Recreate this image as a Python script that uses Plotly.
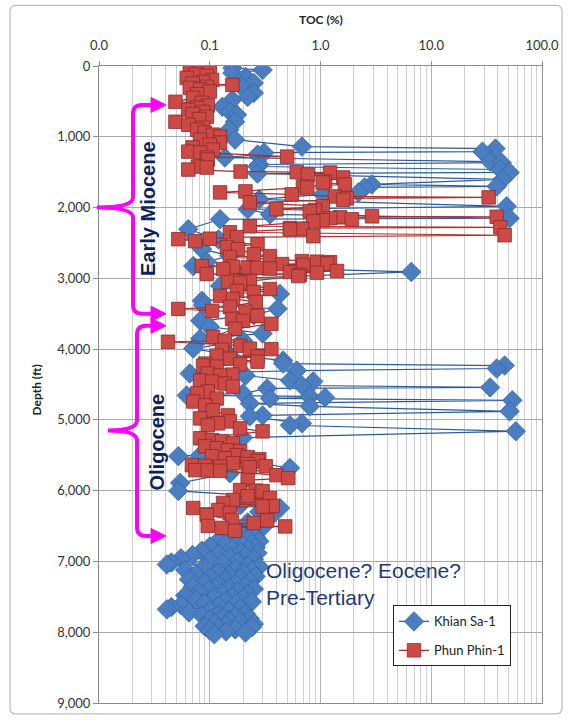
import plotly.graph_objects as go

# ---- Khian Sa-1 : depth (ft) and TOC (%) ----
KS_DEPTH = [
    28, 56, 100, 155, 197, 240, 310, 380, 436, 478, 577, 647, 689, 788, 900,
    1041, 1139, 1167, 1210, 1224, 1252, 1294, 1350, 1364, 1392, 1420, 1462,
    1504, 1520, 1603, 1673, 1701, 1715, 1786, 1814, 1884, 1982, 2025, 2095,
    2151, 2165, 2306, 2450, 2587, 2680, 2770, 2826, 2910, 3000, 3107, 3220,
    3318, 3380, 3430, 3520, 3600, 3684, 3780, 3852, 3882, 3993, 4080, 4162,
    4204, 4232, 4274, 4303, 4345, 4374, 4443, 4457, 4514, 4541, 4556, 4627,
    4654, 4668, 4682, 4696, 4724, 4768, 4809, 4879, 4937, 4949, 5048, 5076,
    5160, 5250, 5380, 5499, 5512, 5600, 5680, 5753, 5891, 6004, 6062, 6100,
    6175, 6200, 6245, 6300, 6380, 6450, 6520, 6580, 6620,
    6640, 6655, 6670, 6685, 6700, 6715, 6730, 6745, 6760, 6775, 6790, 6805,
    6820, 6835, 6850, 6865, 6880, 6895, 6910, 6925, 6940, 6955, 6970, 6985,
    7000, 7015, 7030, 7044, 7060, 7075, 7090, 7105, 7120, 7135, 7150, 7165,
    7180, 7195, 7210, 7225, 7240, 7255, 7270, 7285, 7300, 7315, 7330, 7345,
    7360, 7375, 7390, 7405, 7420, 7435, 7450, 7465, 7480, 7495, 7510, 7525,
    7540, 7555, 7570, 7585, 7600, 7615, 7630, 7645, 7660, 7677, 7690, 7705,
    7720, 7735, 7750, 7765, 7780, 7795, 7810, 7825, 7840, 7855, 7870, 7885,
    7900, 7915, 7930, 7945, 7960, 7975, 7990, 8005, 8028,
]
KS_TOC = [
    0.16, 0.30, 0.16, 0.21, 0.22, 0.25, 0.20, 0.25, 0.22, 0.16, 0.13, 0.152, 0.176, 0.169, 0.15,
    0.169, 0.68, 38, 29, 0.31, 0.27, 0.137, 34, 43, 0.28, 0.27, 42,
    51, 0.27, 44, 2.9, 39, 2.5, 2.2, 1.05, 0.28, 48, 0.22, 0.35,
    51, 0.124, 0.064, 0.12, 0.085, 0.15, 0.094, 0.071, 6.6, 0.20, 0.124, 0.43,
    0.085, 0.087, 0.41, 0.25, 0.082, 0.10, 0.30, 0.082, 0.20, 0.071, 0.15, 0.46,
    0.46, 46, 39, 0.61, 0.066, 0.21, 0.53, 0.86, 0.68, 34, 0.33, 0.20,
    0.062, 0.80, 1.10, 0.35, 54, 0.23, 0.80, 51, 0.30, 0.23, 0.68, 0.53,
    58, 0.20, 0.15, 0.082, 0.052, 0.25, 0.53, 0.152, 0.054, 0.052, 0.20, 0.25,
    0.30, 0.19, 0.43, 0.28, 0.35, 0.22, 0.30, 0.18, 0.25,
    0.20, 0.26, 0.15, 0.22, 0.12, 0.28, 0.18, 0.24, 0.14, 0.20, 0.10, 0.26,
    0.16, 0.22, 0.085, 0.19, 0.27, 0.12, 0.07, 0.21, 0.15, 0.055, 0.25, 0.10,
    0.18, 0.045, 0.13, 0.041, 0.22, 0.28, 0.09, 0.17, 0.06, 0.24, 0.12, 0.20,
    0.075, 0.15, 0.26, 0.10, 0.19, 0.065, 0.14, 0.23, 0.09, 0.17, 0.12, 0.21,
    0.07, 0.15, 0.25, 0.10, 0.18, 0.08, 0.13, 0.22, 0.06, 0.16, 0.11, 0.20,
    0.075, 0.14, 0.24, 0.09, 0.17, 0.055, 0.12, 0.045, 0.19, 0.041, 0.10, 0.15,
    0.065, 0.21, 0.12, 0.085, 0.17, 0.13, 0.23, 0.10, 0.15, 0.19, 0.11, 0.25,
    0.14, 0.09, 0.24, 0.12, 0.17, 0.10, 0.14, 0.21, 0.11,
]

# ---- Phun Phin-1 : depth (ft) and TOC (%) ----
PP_DEPTH = [
    28, 56, 90, 120, 140, 169, 197, 225, 250, 267, 295, 309, 330, 360, 400,
    450, 506, 520, 560, 591, 619, 650, 680, 717, 750, 788, 830, 872, 900,
    940, 970, 999, 1040, 1083, 1111, 1150, 1180, 1210, 1224, 1280, 1294,
    1322, 1421, 1435, 1463, 1491, 1500, 1505, 1533, 1575, 1632, 1646, 1674,
    1702, 1715, 1772, 1786, 1814, 1843, 1857, 1870, 1890, 1927, 1983, 2025,
    2035, 2053, 2124, 2130, 2138, 2150, 2166, 2180, 2194, 2264, 2279, 2290,
    2300, 2307, 2349, 2391, 2405, 2419, 2440, 2447, 2475, 2518, 2560, 2588,
    2658, 2686, 2700, 2757, 2765, 2771, 2790, 2799, 2810, 2827, 2835, 2845,
    2855, 2862, 2869, 2897, 2911, 2920, 2940, 2950, 2968, 3038, 3052, 3060,
    3151, 3179, 3193, 3249, 3291, 3333, 3404, 3432, 3460, 3470, 3530, 3573,
    3601, 3643, 3713, 3826, 3882, 3896, 3952, 3994, 4000, 4010, 4093, 4107,
    4135, 4177, 4205, 4215, 4234, 4248, 4346, 4360, 4374, 4445, 4459, 4487,
    4529, 4599, 4627, 4698, 4740, 4796, 4866, 4937, 4979, 5021, 5049, 5077,
    5120, 5162, 5260, 5288, 5300, 5331, 5373, 5401, 5429, 5443, 5499, 5513,
    5525, 5542, 5555, 5584, 5612, 5625, 5640, 5648, 5654, 5660, 5670, 5710,
    5715, 5720, 5781, 5823, 5851, 5992, 6000, 6006, 6076, 6104, 6132, 6175,
    6217, 6225, 6245, 6273, 6315, 6343, 6414, 6420, 6456, 6498, 6505, 6526,
    6568,
]
PP_TOC = [
    0.066, 0.082, 0.100, 0.074, 0.094, 0.062, 0.105, 0.087, 0.070, 0.16, 0.094, 0.066, 0.082, 0.100, 0.077,
    0.071, 0.049, 0.085, 0.096, 0.077, 0.064, 0.087, 0.070, 0.094, 0.080, 0.049, 0.064, 0.087, 0.077,
    0.090, 0.107, 0.124, 0.082, 0.124, 0.100, 0.070, 0.107, 0.064, 0.082, 0.50, 0.094,
    0.096, 0.078, 0.094, 0.064, 0.19, 0.61, 1.22, 0.77, 1.60, 1.10, 1.05, 1.66,
    0.70, 0.76, 0.21, 0.124, 0.55, 1.35, 33, 1.73, 1.60, 0.23, 1.05, 0.40,
    0.89, 0.80, 2.92, 39, 1.50, 1.22, 1.92, 1.05, 0.86, 0.23, 42, 0.53,
    0.68, 0.53, 0.152, 46, 0.86, 0.176, 0.10, 0.052, 0.074, 0.27, 0.143, 0.18,
    0.25, 0.35, 0.152, 0.68, 0.93, 1.22, 1.15, 0.45, 0.70, 0.085, 0.162, 0.22,
    0.27, 0.35, 0.132, 1.41, 0.53, 0.93, 0.094, 0.65, 0.63, 0.23, 0.146, 0.188,
    0.35, 0.176, 0.25, 0.124, 0.162, 0.26, 0.152, 0.052, 0.105, 0.21, 0.27, 0.159,
    0.20, 0.36, 0.169, 0.107, 0.137, 0.042, 0.188, 0.23, 0.36, 0.129, 0.116, 0.27,
    0.152, 0.27, 0.091, 0.188, 0.087, 0.116, 0.096, 0.159, 0.124, 0.082, 0.105, 0.137,
    0.162, 0.096, 0.077, 0.116, 0.071, 0.091, 0.107, 0.146, 0.082, 0.152, 0.119, 0.096,
    0.188, 0.30, 0.082, 0.105, 0.129, 0.162, 0.091, 0.116, 0.146, 0.188, 0.176, 0.105,
    0.22, 0.137, 0.28, 0.27, 0.162, 0.22, 0.069, 0.091, 0.32, 0.124, 0.23, 0.074,
    0.096, 0.124, 0.40, 0.51, 0.22, 0.188, 0.26, 0.30, 0.22, 0.35, 0.162, 0.132,
    0.37, 0.30, 0.071, 0.119, 0.152, 0.094, 0.159, 0.33, 0.25, 0.096, 0.48, 0.129,
    0.169,
]

TOC_TICKS = [0.01, 0.1, 1, 10, 100]
TOC_LABELS = ["0.0", "0.1", "1.0", "10.0", "100.0"]
DEPTH_TICKS = [0, 1000, 2000, 3000, 4000, 5000, 6000, 7000, 8000, 9000]
DEPTH_LABELS = ["0", "1,000", "2,000", "3,000", "4,000", "5,000",
                "6,000", "7,000", "8,000", "9,000"]

# Interval brackets: (label, top depth, mid depth, bottom depth)
INTERVALS = [("Early Miocene", 550, 2000, 3500), ("Oligocene", 3670, 5150, 6640)]
DEEP_LABEL = "Oligocene? Eocene?<br>Pre-Tertiary"

# ---- page geometry (pixels) ----
W, H = 572, 723
ML, MR, MT, MB = 99, 30, 66, 17
PW, PH = W - ML - MR, H - MT - MB
FT_PER_PX = 9000 / PH


def xp(x):
    """pixel column -> paper x"""
    return (x - ML) / PW


def yp(y):
    """pixel row -> paper y"""
    return (H - MB - y) / PH


MAGENTA = "#FF00FF"
NAVY = "#0E1F5E"
FONT = "Lato, 'Liberation Sans', sans-serif"
ARIAL = "'Liberation Sans', Arial, sans-serif"

fig = go.Figure()

fig.add_trace(go.Scatter(
    x=KS_TOC, y=KS_DEPTH, name="Khian Sa-1", mode="lines+markers",
    legendgroup="ks",
    line=dict(color="#2D5B9A", width=1.2),
    marker=dict(symbol="diamond", size=15, color="#4A7EC0",
                line=dict(color="#3567A8", width=0.8)),
))
fig.add_trace(go.Scatter(
    x=PP_TOC, y=PP_DEPTH, name="Phun Phin-1", mode="lines+markers",
    legendgroup="pp",
    line=dict(color="#A8302D", width=1.2),
    marker=dict(symbol="square", size=13.5, color="#CC4A45",
                line=dict(color="#8E2B28", width=0.8)),
))

shapes = []

# outer chart-area frame (rounded)
x0, x1 = xp(10), xp(562)
y0, y1 = yp(5), yp(717)
rx, ry = 6 / PW, 6 / PH
frame = (f"M {x0+rx},{y0} L {x1-rx},{y0} Q {x1},{y0} {x1},{y0-ry} "
         f"L {x1},{y1+ry} Q {x1},{y1} {x1-rx},{y1} L {x0+rx},{y1} "
         f"Q {x0},{y1} {x0},{y1+ry} L {x0},{y0-ry} Q {x0},{y0} {x0+rx},{y0} Z")
shapes.append(dict(type="path", path=frame, xref="paper", yref="paper",
                   line=dict(color="#BDBDBD", width=1.2), layer="below"))

# magenta interval brackets with arrows
bracket_px = [(133, 97), (137, 108)]
for (label, top, mid, bot), (xv_px, xt_px) in zip(INTERVALS, bracket_px):
    xv, xt = xp(xv_px), xp(xt_px)
    xb, xh = xp(151), xp(166)
    r_x, r_y = 9 / PW, 9 * FT_PER_PX
    m_y = 10 * FT_PER_PX
    path = (f"M {xb},{top} L {xv+r_x},{top} Q {xv},{top} {xv},{top+r_y} "
            f"L {xv},{mid-m_y} Q {xv},{mid} {xt},{mid} "
            f"Q {xv},{mid} {xv},{mid+m_y} "
            f"L {xv},{bot-r_y} Q {xv},{bot} {xv+r_x},{bot} L {xb},{bot}")
    shapes.append(dict(type="path", path=path, xref="paper", yref="y",
                       line=dict(color=MAGENTA, width=4)))
    hh = 7.5 * FT_PER_PX
    for yy in (top, bot):
        tri = f"M {xb},{yy-hh} L {xh},{yy} L {xb},{yy+hh} Z"
        shapes.append(dict(type="path", path=tri, xref="paper", yref="y",
                           fillcolor=MAGENTA, line=dict(color=MAGENTA, width=1)))

annotations = [
    dict(text="<b>TOC (%)</b>", x=xp(321), y=yp(19), xref="paper", yref="paper",
         xanchor="center", yanchor="middle", showarrow=False,
         font=dict(family=FONT, size=12, color="#222222")),
    dict(text="<b>Depth (ft)</b>", x=xp(36), y=yp(392), xref="paper", yref="paper",
         xanchor="center", yanchor="middle", textangle=-90, showarrow=False,
         font=dict(family=FONT, size=12, color="#222222")),
    dict(text=DEEP_LABEL, x=xp(264), y=7320, xref="paper", yref="y",
         xanchor="left", yanchor="middle", align="left", showarrow=False,
         font=dict(family=ARIAL, size=21, color="#1F3A78")),
]
label_px = [(148, 2020), (157, 5320)]
for (label, top, mid, bot), (lx, ly) in zip(INTERVALS, label_px):
    annotations.append(dict(
        text=f"<b>{label}</b>", x=xp(lx), y=ly, xref="paper", yref="y",
        xanchor="center", yanchor="middle", textangle=-90, showarrow=False,
        font=dict(family=ARIAL, size=20, color=NAVY)))

fig.update_layout(
    width=W, height=H,
    margin=dict(l=ML, r=MR, t=MT, b=MB, pad=0),
    paper_bgcolor="white", plot_bgcolor="white",
    showlegend=True,
    legend=dict(x=xp(393), y=yp(608), xanchor="left", yanchor="top",
                bgcolor="white", bordercolor="#222222", borderwidth=1,
                font=dict(family=FONT, size=13, color="#222222"),
                tracegroupgap=9, itemwidth=30),
    shapes=shapes,
    annotations=annotations,
)

fig.update_xaxes(
    type="log", range=[-2, 2], side="top",
    tickvals=TOC_TICKS, ticktext=TOC_LABELS,
    tickfont=dict(family=FONT, size=13, color="#333333"),
    ticks="outside", ticklen=4, tickcolor="#8C8C8C", ticklabelstandoff=6,
    showgrid=True, gridcolor="#B4B4B4", gridwidth=1,
    minor=dict(dtick="D1", showgrid=True, gridcolor="#CFCFCF", gridwidth=1, ticks=""),
    showline=True, linecolor="#8C8C8C", linewidth=1, mirror=True,
    zeroline=False,
)
fig.update_yaxes(
    range=[9000, 0],
    tickvals=DEPTH_TICKS, ticktext=DEPTH_LABELS,
    tickfont=dict(family=FONT, size=13, color="#333333"),
    ticks="outside", ticklen=5, tickcolor="#8C8C8C",
    showgrid=True, gridcolor="#A8A8A8", gridwidth=1,
    showline=True, linecolor="#8C8C8C", linewidth=1, mirror=True,
    zeroline=False,
)

fig.write_html("out.html")
